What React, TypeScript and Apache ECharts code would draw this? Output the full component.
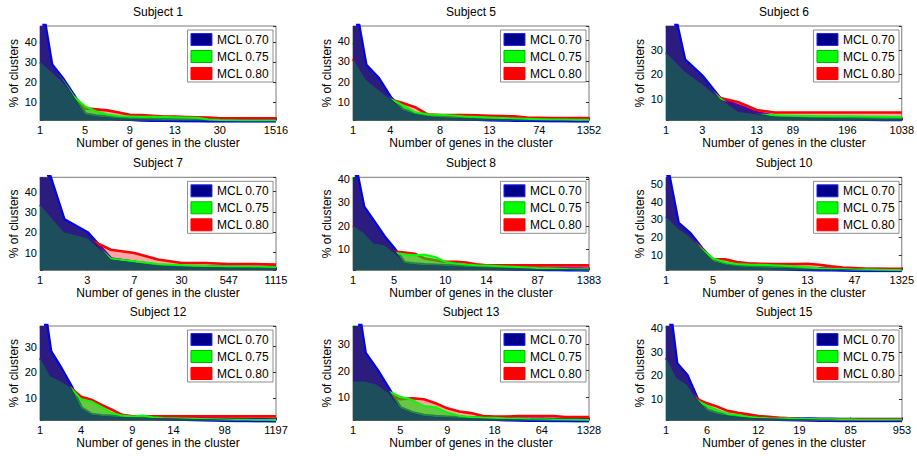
import React, { useEffect, useRef } from 'react';
import * as echarts from 'echarts';

const FONT = '"Liberation Sans", Arial, Helvetica, sans-serif';

const subjectTitles = ['Subject 1', 'Subject 5', 'Subject 6', 'Subject 7', 'Subject 8', 'Subject 10', 'Subject 12', 'Subject 13', 'Subject 15'];
const seriesNames = ['MCL 0.70', 'MCL 0.75', 'MCL 0.80'];
const xAxisTitle = 'Number of genes in the cluster';
const yAxisTitle = '% of clusters';

// x tick labels (cluster sizes shown under the ticks)
const ticksS1 = ['1', '5', '9', '13', '30', '1516'];
const ticksS5 = ['1', '4', '8', '13', '74', '1352'];
const ticksS6 = ['1', '3', '13', '89', '196', '1038'];
const ticksS7 = ['1', '3', '7', '30', '547', '1115'];
const ticksS8 = ['1', '5', '10', '14', '87', '1383'];
const ticksS10 = ['1', '5', '9', '13', '47', '1325'];
const ticksS12 = ['1', '4', '9', '14', '98', '1197'];
const ticksS13 = ['1', '5', '9', '18', '64', '1328'];
const ticksS15 = ['1', '6', '12', '19', '85', '953'];

// % of clusters, MCL 0.70 / 0.75 / 0.80
const s1Mcl070 = [62, 28.5, 21.5, 13, 4, 3, 2.5, 2, 1.8, 1.5, 1.4, 1.3, 1.2, 1.1, 1.1, 1, 1, 1, 1, 1, 1, 1];
const s1Mcl075 = [40, 27, 21, 13, 8, 5.5, 4, 3.2, 3, 2.9, 2.8, 2.7, 2.6, 2.5, 2.4, 1.5, 1.2, 1.1, 1, 1, 1, 1];
const s1Mcl080 = [30, 25, 20, 12.8, 7, 6.5, 6, 5, 3.8, 3.7, 3.3, 3, 2.9, 2.7, 2.6, 2.4, 2.1, 2.1, 2.1, 2.1, 2.1, 2.1];

const s5Mcl070 = [62, 28, 21.6, 12, 6, 4, 3, 2.5, 2.2, 2, 1.8, 1.6, 1.5, 1.4, 1.3, 1.2, 1.1, 1.1, 1, 1];
const s5Mcl075 = [39, 25, 18, 11.5, 8.5, 5, 4, 3.8, 3.5, 3, 2.7, 2.5, 2.2, 2, 1.8, 1.6, 1.5, 1.5, 1.4, 1.4];
const s5Mcl080 = [31, 21, 16, 11.3, 9.5, 7.5, 4, 3.6, 3.6, 3.6, 3.5, 3.3, 3.2, 3, 2.5, 2.3, 2.2, 2.2, 2.2, 2.2];

const s6Mcl070 = [60, 26, 19, 9.6, 6.8, 4, 2.5, 2.2, 2, 1.9, 1.8, 1.7, 1.6, 1.6];
const s6Mcl075 = [39.9, 24, 17, 10, 4.5, 3.5, 3.2, 3, 2.9, 2.8, 2.7, 2.6, 2.5, 2.4];
const s6Mcl080 = [29, 21.3, 15.8, 10.3, 8.5, 5.3, 4.3, 4.3, 4.3, 4.3, 4.3, 4.3, 4.3, 4.3];

const s7Mcl070 = [62, 26, 19.6, 6.6, 5, 3.5, 3, 2.8, 2.6, 2.5, 2.4];
const s7Mcl075 = [47, 22, 17.5, 7, 5.8, 4.4, 3.8, 3.4, 3.2, 3, 2.8];
const s7Mcl080 = [33.5, 20, 17, 11.4, 9.8, 6.6, 4.9, 4.9, 4.4, 4.4, 4.1];

const s8Mcl070 = [50, 28, 21.7, 15.3, 10, 4, 3.5, 3.2, 3, 2.8, 2.6, 2.4, 2.2, 2.1, 2, 1.9, 1.8, 1.7, 1.6, 1.5, 1.5, 1.4, 1.4, 1.3];
const s8Mcl075 = [40.7, 22.6, 17, 12, 8.5, 7.9, 7.4, 7.7, 6.7, 4.6, 3.9, 3.5, 3.2, 3, 2.8, 2.6, 2.4, 2.2, 2, 1.9, 1.8, 1.6, 1.5, 1.4];
const s8Mcl080 = [20, 17, 12.4, 11.7, 9, 8.6, 8.1, 6, 5.3, 4.6, 4.6, 4.3, 3.6, 3.1, 3.1, 3.1, 3.1, 3.1, 3.1, 3.1, 3.1, 3.1, 3.1, 3.1];

const s10Mcl070 = [62, 27.7, 22, 13.5, 6.3, 4.4, 3.5, 3, 2.8, 2.6, 2.4, 2.2, 2, 1.9, 1.8, 1.7, 1.6, 1.5, 1.5, 1.4, 1.4];
const s10Mcl075 = [48, 25, 20, 13.5, 8, 5.8, 4.8, 4.5, 4.4, 4.2, 3.8, 3.5, 3, 2.5, 2.2, 2, 1.8, 1.7, 1.6, 1.5, 1.5];
const s10Mcl080 = [31.4, 24.9, 20.2, 13.7, 7.5, 7.5, 5.9, 5.3, 5, 4.8, 4.8, 4.8, 5, 4.4, 3.5, 2.9, 2.6, 2.2, 2.2, 2.2, 2.2];

const s12Mcl070 = [55, 28, 21.6, 14.5, 6, 3.5, 3, 2.8, 2.6, 2.5, 2.4, 2.3, 2.2, 2.1, 2, 1.9, 1.8, 1.7, 1.6, 1.5, 1.5, 1.4, 1.4, 1.3];
const s12Mcl075 = [38, 24, 18, 14, 9.5, 8.7, 6.5, 4.2, 3.2, 2.9, 3.2, 2.6, 2.3, 2.2, 2.1, 2, 1.9, 1.8, 1.7, 1.6, 1.6, 1.5, 1.5, 1.5];
const s12Mcl080 = [25.5, 18.4, 16.5, 13.9, 10.5, 9.4, 7.4, 5.5, 3.5, 2.9, 2.9, 2.9, 2.9, 2.9, 2.9, 2.9, 2.9, 2.9, 2.9, 2.9, 2.9, 2.9, 2.9, 2.9];

const s13Mcl070 = [55, 26.6, 20.3, 13, 5.8, 4, 2.9, 2.5, 2.3, 2.1, 2, 1.9, 1.8, 1.7, 1.6, 1.5, 1.5, 1.4, 1.4, 1.3, 1.3];
const s13Mcl075 = [37, 24, 18, 12.2, 10.2, 9, 6.7, 6.2, 4.2, 3, 2.5, 2.3, 2.2, 2, 2, 1.8, 1.7, 1.6, 1.5, 1.5, 1.4];
const s13Mcl080 = [15.9, 15.9, 14.7, 11.5, 9.2, 9.6, 9.2, 7.7, 5.8, 4.6, 4, 2.9, 2.7, 2.7, 2.9, 2.9, 2.9, 2.9, 2.5, 2.5, 2.5];

const s15Mcl070 = [60, 25, 20, 10, 5, 3.5, 2.8, 2.3, 2, 1.8, 1.6, 1.5, 1.4, 1.3, 1.2, 1.1, 1.1, 1, 1, 1, 1, 1, 1, 1];
const s15Mcl075 = [41, 22, 17, 9.5, 7, 5.3, 3.6, 3.1, 2.4, 2, 1.8, 1.7, 1.6, 1.5, 1.4, 1.3, 1.3, 1.2, 1.2, 1.1, 1.1, 1.1, 1.1, 1.1];
const s15Mcl080 = [27.4, 18.9, 16, 10, 8.1, 6.7, 4.9, 4.1, 3.4, 2.7, 2.4, 2, 1.7, 1.4, 1.3, 1.3, 1.3, 1.3, 1.3, 1.3, 1.3, 1.3, 1.3, 1.3];

// y-axis limits per panel
const yMins = [1, 1, 1, 1.3, 1, 1.3, 1.3, 1.2, 0.8];
const yMaxs = [47.8, 47.1, 39.9, 47, 40.7, 53.7, 38, 36.9, 41];

const panelTicks = [ticksS1, ticksS5, ticksS6, ticksS7, ticksS8, ticksS10, ticksS12, ticksS13, ticksS15];
const panelValues = [
  [s1Mcl070, s1Mcl075, s1Mcl080],
  [s5Mcl070, s5Mcl075, s5Mcl080],
  [s6Mcl070, s6Mcl075, s6Mcl080],
  [s7Mcl070, s7Mcl075, s7Mcl080],
  [s8Mcl070, s8Mcl075, s8Mcl080],
  [s10Mcl070, s10Mcl075, s10Mcl080],
  [s12Mcl070, s12Mcl075, s12Mcl080],
  [s13Mcl070, s13Mcl075, s13Mcl080],
  [s15Mcl070, s15Mcl075, s15Mcl080],
];

// layout
const COL_LEFT = [40, 353, 666];
const GRID_W = 236;
const ROW_TOP = [26, 177.3, 326];
const ROW_H = [94.5, 93, 94.5];
const W = 917;

const LINE_COLORS = ['#0000ff', '#00ff00', '#ff0000'];
const LINE_WIDTHS = [4.4, 2, 2.6];
const FILL_COLORS = ['#2d1c80', '#00dd00', '#ff0000'];
const FILL_OPACITY = [1, 0.6, 0.35];
const LEGEND_COLORS = ['#00008b', '#00ff00', '#ff0000'];
const LEGEND_BORDERS = ['#2323ff', '#00b400', '#ff0000'];
const AREA_Z = [4, 3, 2];
const LINE_Z = [1, 3, 2];
const OVERLAP_COLOR = '#1d4e5b';

function tickIndices(n: number): number[] {
  return [0, 1, 2, 3, 4, 5].map((k) => Math.floor(1 + (k * (n - 1)) / 5) - 1);
}

function buildOption() {
  const grid: any[] = [];
  const xAxis: any[] = [];
  const yAxis: any[] = [];
  const series: any[] = [];
  const legend: any[] = [];
  const graphic: any[] = [];

  panelValues.forEach((vals, i) => {
    const r = Math.floor(i / 3);
    const c = i % 3;
    const left = COL_LEFT[c];
    const top = ROW_TOP[r];
    const h = ROW_H[r];
    const n = vals[0].length;
    const ticks = tickIndices(n);
    const labels = panelTicks[i];
    const cats = Array.from({ length: n }, (_, j) => String(j));

    grid.push({ left, top, width: GRID_W, height: h, show: true, borderColor: '#7a7a7a', borderWidth: 1, backgroundColor: '#fff' });

    xAxis.push({
      type: 'category',
      gridIndex: i,
      data: cats,
      boundaryGap: false,
      axisLine: { show: false },
      axisTick: { show: true, inside: true, length: 3, interval: (idx: number) => ticks.includes(idx), lineStyle: { color: '#333' } },
      axisLabel: {
        interval: (idx: number) => ticks.includes(idx),
        formatter: (val: string) => {
          const k = ticks.indexOf(Number(val));
          return k >= 0 ? labels[k] : '';
        },
        margin: 4,
        fontSize: 11,
        color: '#000',
        fontFamily: FONT,
      },
      splitLine: { show: false },
    });

    const yCommon = {
      type: 'value',
      gridIndex: i,
      min: yMins[i],
      max: yMaxs[i],
      splitNumber: 5,
      splitLine: { show: false },
      axisLine: { show: false },
    };
    yAxis.push({
      ...yCommon,
      position: 'left',
      axisTick: { show: true, inside: true, length: 3, lineStyle: { color: '#333' } },
      axisLabel: {
        formatter: (v: number) => (Math.abs(v % 10) < 1e-9 ? String(v) : ''),
        margin: 3,
        fontSize: 11,
        color: '#000',
        fontFamily: FONT,
      },
    });
    yAxis.push({
      ...yCommon,
      position: 'right',
      axisTick: { show: true, inside: true, length: 3, lineStyle: { color: '#333' } },
      axisLabel: { show: false },
    });

    vals.forEach((data, k) => {
      const separateEdge = k === 0;
      series.push({
        type: 'line',
        name: seriesNames[k],
        xAxisIndex: i,
        yAxisIndex: 2 * i,
        data,
        symbol: 'none',
        showSymbol: false,
        z: AREA_Z[k],
        clip: true,
        lineStyle: separateEdge
          ? { width: 0, color: LINE_COLORS[k] }
          : { color: LINE_COLORS[k], width: LINE_WIDTHS[k], join: 'round' },
        areaStyle: { color: FILL_COLORS[k], opacity: FILL_OPACITY[k] },
        itemStyle: { color: LEGEND_COLORS[k], borderColor: LEGEND_BORDERS[k], borderWidth: 1 },
        emphasis: { disabled: true },
      });
      if (separateEdge) {
        // edge of the MCL 0.70 patch, drawn beneath the other patches
        series.push({
          type: 'line',
          name: seriesNames[k] + ' edge',
          xAxisIndex: i,
          yAxisIndex: 2 * i,
          data,
          symbol: 'none',
          showSymbol: false,
          z: LINE_Z[k],
          clip: true,
          silent: true,
          lineStyle: { color: LINE_COLORS[k], width: LINE_WIDTHS[k], join: 'round' },
          itemStyle: { color: LINE_COLORS[k] },
          emphasis: { disabled: true },
        });
      }
    });
    // region shared by all three settings
    series.push({
      type: 'line',
      name: 'overlap',
      xAxisIndex: i,
      yAxisIndex: 2 * i,
      data: vals[0].map((v, j) => Math.min(v, vals[1][j], vals[2][j])),
      symbol: 'none',
      showSymbol: false,
      z: 5,
      clip: true,
      silent: true,
      lineStyle: { width: 0, color: OVERLAP_COLOR },
      areaStyle: { color: OVERLAP_COLOR, opacity: 1 },
      itemStyle: { color: OVERLAP_COLOR },
      emphasis: { disabled: true },
    });

    legend.push({
      show: true,
      orient: 'vertical',
      right: W - (left + GRID_W) + 3,
      top: top + 4,
      data: seriesNames,
      icon: 'rect',
      itemWidth: 21,
      itemHeight: 12,
      itemGap: 4,
      padding: [3, 4, 2, 3],
      backgroundColor: '#fff',
      borderColor: '#444',
      borderWidth: 0.6,
      selectedMode: false,
      z: 10,
      itemStyle: { borderWidth: 1 },
      textStyle: { fontSize: 12, lineHeight: 12, color: '#000', fontFamily: FONT },
    });

    const cx = left + GRID_W / 2;
    graphic.push({
      type: 'text',
      x: cx,
      y: top - 14,
      z: 10,
      style: { text: subjectTitles[i], x: 0, y: 0, fill: '#000', fontSize: 12, fontFamily: FONT, align: 'center', verticalAlign: 'middle', textAlign: 'center', textVerticalAlign: 'middle' },
    });
    graphic.push({
      type: 'text',
      x: cx,
      y: top + h + 22.5,
      z: 10,
      style: { text: xAxisTitle, x: 0, y: 0, fill: '#000', fontSize: 12, fontFamily: FONT, align: 'center', verticalAlign: 'middle', textAlign: 'center', textVerticalAlign: 'middle' },
    });
    graphic.push({
      type: 'text',
      x: left - 26.5,
      y: top + h / 2,
      rotation: Math.PI / 2,
      z: 10,
      style: { text: yAxisTitle, x: 0, y: 0, fill: '#000', fontSize: 12, fontFamily: FONT, align: 'center', verticalAlign: 'middle', textAlign: 'center', textVerticalAlign: 'middle' },
    });
  });

  return {
    animation: false,
    backgroundColor: '#fff',
    textStyle: { fontFamily: FONT },
    grid,
    xAxis,
    yAxis,
    series,
    legend,
    graphic,
  };
}

export default function App() {
  const ref = useRef<HTMLDivElement>(null);
  useEffect(() => {
    if (!ref.current) return;
    const chart = echarts.init(ref.current, undefined, { renderer: 'svg' });
    chart.setOption(buildOption() as any);
    return () => chart.dispose();
  }, []);
  return <div ref={ref} style={{ position: 'fixed', left: 0, top: 0, width: 917, height: 456, background: '#fff' }} />;
}
